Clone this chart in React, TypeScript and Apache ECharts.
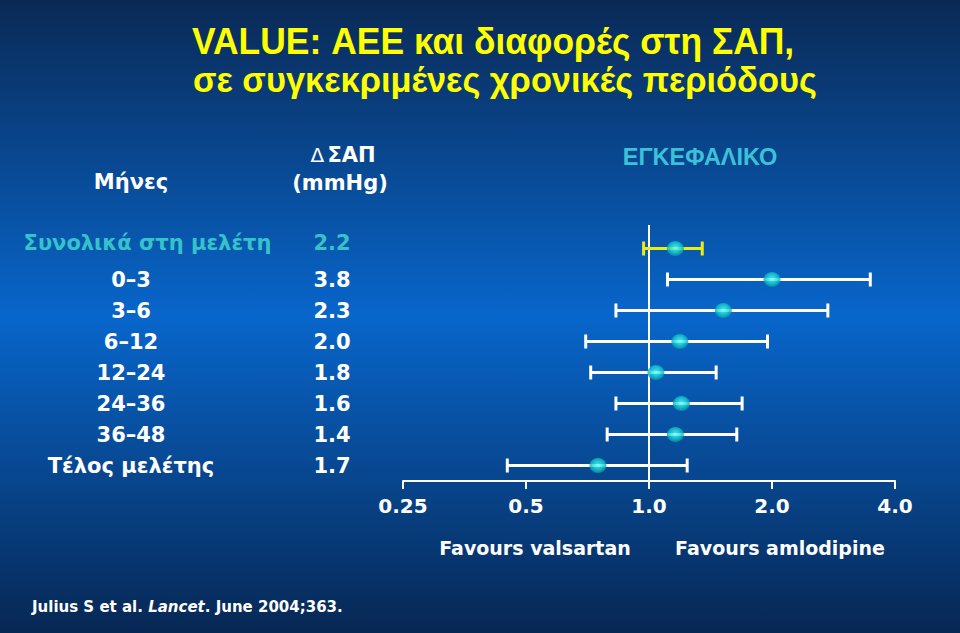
import React, { useEffect, useRef } from "react";
import * as echarts from "echarts";

// ---- data ----
const periods = [
  "Συνολικά στη μελέτη",
  "0–3",
  "3–6",
  "6–12",
  "12–24",
  "24–36",
  "36–48",
  "Τέλος μελέτης",
];
const deltaSAP = ["2.2", "3.8", "2.3", "2.0", "1.8", "1.6", "1.4", "1.7"];
const hazardRatio = [1.16, 2.0, 1.52, 1.19, 1.04, 1.2, 1.16, 0.75];
const ciLower = [0.97, 1.11, 0.83, 0.7, 0.72, 0.83, 0.79, 0.45];
const ciUpper = [1.35, 3.48, 2.74, 1.95, 1.46, 1.69, 1.64, 1.24];
const referenceValue = 1;
const xTickValues = [0.25, 0.5, 1, 2, 4];
const xTickLabels = ["0.25", "0.5", "1.0", "2.0", "4.0"];
const titleLines = [
  "VALUE: ΑΕΕ και διαφορές στη ΣΑΠ,",
  "σε συγκεκριμένες χρονικές περιόδους",
];
const headerMonths = "Μήνες";
const headerDelta = ["Δ", "ΣΑΠ", "(mmHg)"];
const outcomeLabel = "ΕΓΚΕΦΑΛΙΚΟ";
const favourLabels = ["Favours valsartan", "Favours amlodipine"];
const sourceParts = ["Julius S et al. ", "Lancet", ". June 2004;363."];

const FONT = "'DejaVu Sans', Verdana, sans-serif";
const SANS = "'Liberation Sans', Arial, sans-serif";
const TEAL = "#35c3c9";

function txt(x: number, y: number, text: string, extra: any = {}, el: any = {}) {
  const { align = "center", ...rest } = extra;
  return {
    type: "text",
    x,
    y,
    silent: true,
    ...el,
    style: {
      text,
      fill: "#ffffff",
      fontFamily: FONT,
      fontWeight: "bold",
      fontSize: 19,
      align,
      textAlign: align,
      verticalAlign: "middle",
      textVerticalAlign: "middle",
      ...rest,
    },
  };
}

export default function App() {
  const ref = useRef<HTMLDivElement>(null);

  useEffect(() => {
    document.body.style.margin = "0";
    const chart = echarts.init(ref.current!, null, { renderer: "svg" });

    const tickLabel = (v: number) => {
      const i = xTickValues.findIndex((t) => Math.abs(t - v) < 1e-6);
      return i >= 0 ? xTickLabels[i] : "";
    };

    const richBase = { fontFamily: FONT, fontWeight: "bold", fontSize: 21, align: "center" };

    const option: any = {
      animation: false,
      backgroundColor: new echarts.graphic.LinearGradient(0, 0, 0, 1, [
        { offset: 0, color: "#0a2955" },
        { offset: 0.5, color: "#0866cb" },
        { offset: 1, color: "#072753" },
      ]),
      grid: { left: 403, right: 65, top: 233, height: 248 },
      xAxis: {
        type: "log",
        logBase: 2,
        min: 0.25,
        max: 4,
        splitNumber: 4,
        axisLine: { show: true, lineStyle: { color: "#ffffff", width: 2 } },
        axisTick: { show: true, length: 8, lineStyle: { color: "#ffffff", width: 2 } },
        axisLabel: {
          color: "#ffffff",
          fontFamily: FONT,
          fontWeight: "bold",
          fontSize: 20,
          margin: 15,
          formatter: tickLabel,
        },
        splitLine: { show: false },
        minorTick: { show: false },
      },
      yAxis: {
        type: "category",
        data: periods,
        inverse: true,
        axisLine: { show: false },
        axisTick: { show: false },
        splitLine: { show: false },
        axisLabel: {
          margin: 395,
          align: "left",
          color: "#ffffff",
          formatter: (v: string, i: number) =>
            i === 0 ? `{ha|${v}}{hb|${deltaSAP[i]}}` : `{a|${v}}{b|${deltaSAP[i]}}`,
          rich: {
            a: { ...richBase, color: "#ffffff", width: 246 },
            b: { ...richBase, color: "#ffffff", width: 40, padding: [0, 0, 0, 58] },
            ha: { ...richBase, color: TEAL, width: 279, padding: [0, 0, 12, 0] },
            hb: { ...richBase, color: TEAL, width: 40, padding: [0, 0, 12, 25] },
          },
        },
      },
      series: [
        {
          type: "custom",
          name: "reference",
          encode: { x: 0, y: 1 },
          data: [[referenceValue, 0]],
          silent: true,
          z: 1,
          renderItem: (params: any, api: any) => {
            const cs = params.coordSys;
            const x = api.coord([api.value(0), 0])[0];
            return {
              type: "line",
              shape: { x1: x, y1: cs.y - 8, x2: x, y2: cs.y + cs.height },
              style: { stroke: "#ffffff", lineWidth: 2 },
            };
          },
        },
        {
          type: "custom",
          name: "ci",
          encode: { x: [0, 1], y: 2 },
          data: periods.map((_, i) => [ciLower[i], ciUpper[i], i]),
          silent: true,
          z: 3,
          renderItem: (params: any, api: any) => {
            const idx = api.value(2);
            const lo = api.coord([api.value(0), idx]);
            const hi = api.coord([api.value(1), idx]);
            const cap = 7;
            const color = idx === 0 ? "#e9ec17" : "#ffffff";
            const style = { stroke: color, lineWidth: 3 };
            return {
              type: "group",
              children: [
                { type: "line", shape: { x1: lo[0], y1: lo[1], x2: hi[0], y2: hi[1] }, style },
                { type: "line", shape: { x1: lo[0], y1: lo[1] - cap, x2: lo[0], y2: lo[1] + cap }, style },
                { type: "line", shape: { x1: hi[0], y1: hi[1] - cap, x2: hi[0], y2: hi[1] + cap }, style },
              ],
            };
          },
        },
        {
          type: "scatter",
          name: "hr",
          data: periods.map((_, i) => [hazardRatio[i], i]),
          symbol: "circle",
          symbolSize: [17, 15],
          itemStyle: {
            color: new echarts.graphic.RadialGradient(0.5, 0.45, 0.55, [
              { offset: 0, color: "#6ffcf8" },
              { offset: 0.55, color: "#19d9dc" },
              { offset: 1, color: "#0a8f9e" },
            ]),
          },
          z: 5,
        },
      ],
      graphic: [
        txt(
          192,
          42,
          titleLines[0],
          { align: "left", fill: "#ffff00", fontFamily: SANS, fontSize: 36 },
          { scaleX: 0.985 }
        ),
        txt(
          193,
          79,
          titleLines[1],
          { align: "left", fill: "#ffff00", fontFamily: SANS, fontSize: 36 },
          { scaleX: 0.955 }
        ),
        txt(131, 182, headerMonths, { fontSize: 21 }),
        {
          type: "text",
          x: 343,
          y: 155,
          silent: true,
          style: {
            text: `{d|${headerDelta[0]}} {b|${headerDelta[1]}}`,
            align: "center",
            textAlign: "center",
            verticalAlign: "middle",
            textVerticalAlign: "middle",
            fill: "#ffffff",
            rich: {
              d: { fill: "#ffffff", color: "#ffffff", fontFamily: FONT, fontWeight: "normal", fontSize: 20 },
              b: { fill: "#ffffff", color: "#ffffff", fontFamily: FONT, fontWeight: "bold", fontSize: 21 },
            },
          },
        },
        txt(340, 183, headerDelta[2], { fontSize: 21 }),
        txt(700, 157, outcomeLabel, {
          fill: "#3cc2d8",
          fontFamily: SANS,
          fontSize: 23.5,
        }),
        txt(535, 548, favourLabels[0], { fontSize: 19 }),
        txt(780, 548, favourLabels[1], { fontSize: 19 }),
        {
          type: "text",
          x: 32,
          y: 607,
          silent: true,
          style: {
            text: `{n|${sourceParts[0]}}{i|${sourceParts[1]}}{n|${sourceParts[2]}}`,
            align: "left",
            textAlign: "left",
            verticalAlign: "middle",
            textVerticalAlign: "middle",
            fill: "#ffffff",
            rich: {
              n: { fill: "#ffffff", color: "#ffffff", fontFamily: FONT, fontWeight: "bold", fontSize: 15 },
              i: {
                fill: "#ffffff",
                color: "#ffffff",
                fontFamily: FONT,
                fontWeight: "bold",
                fontStyle: "italic",
                fontSize: 15,
              },
            },
          },
        },
      ],
    };

    chart.setOption(option);
    return () => chart.dispose();
  }, []);

  return <div ref={ref} style={{ width: 960, height: 633 }} />;
}
